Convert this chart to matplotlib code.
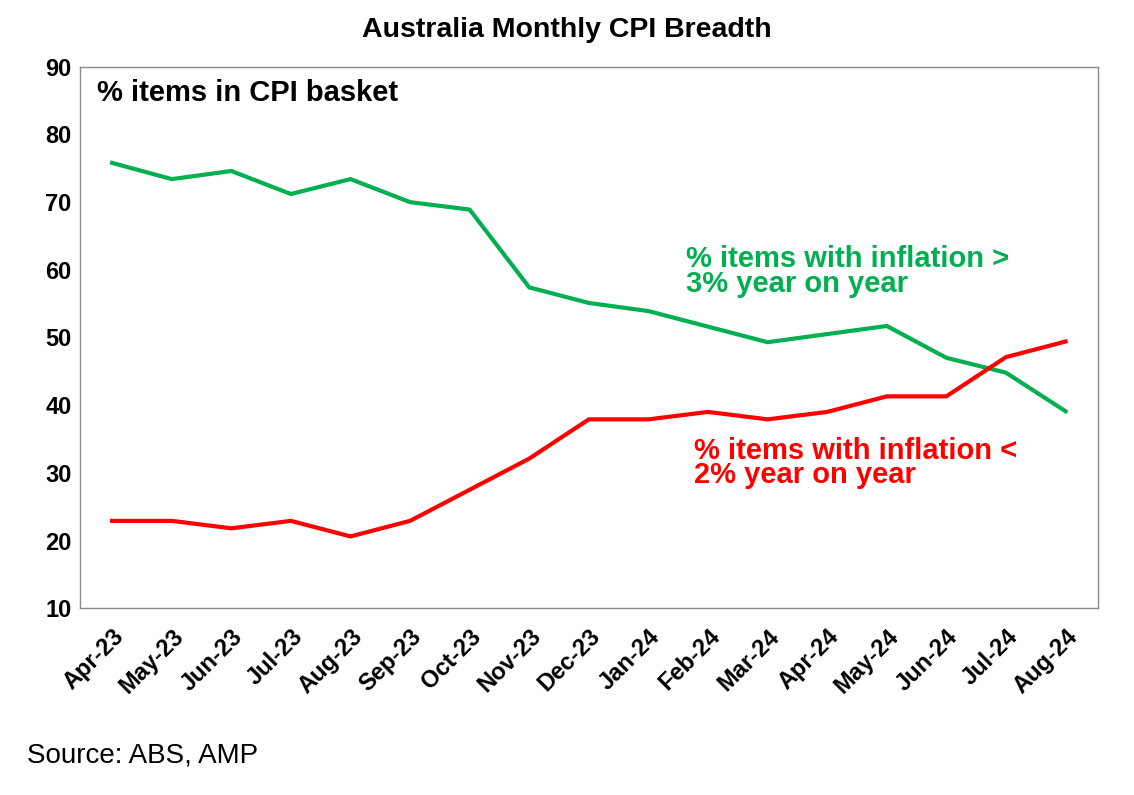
"""
Australia monthly CPI breadth chart
"""
import matplotlib
matplotlib.use("Agg")
import matplotlib.pyplot as plt

plt.rcParams['font.family'] = ['Liberation Sans', 'DejaVu Sans']

months = ["Apr-23", "May-23", "Jun-23", "Jul-23", "Aug-23", "Sep-23", "Oct-23",
          "Nov-23", "Dec-23", "Jan-24", "Feb-24", "Mar-24", "Apr-24", "May-24",
          "Jun-24", "Jul-24", "Aug-24"]

# % of items with inflation above 3% yoy
above_3 = [75.8, 73.4, 74.6, 71.2, 73.4, 70.0, 68.9, 57.4, 55.1, 53.9, 51.6,
           49.3, 50.5, 51.7, 47.0, 44.8, 39.1]

# % of items with inflation below 2% yoy
below_2 = [22.9, 22.9, 21.8, 22.9, 20.6, 22.9, 27.5, 32.1, 37.9, 37.9, 39.0,
           37.9, 39.0, 41.3, 41.3, 47.1, 49.4]

GREEN = "#00B050"
RED = "#FF0000"


def main():
    fig = plt.figure(figsize=(11.34, 7.95), dpi=100)
    ax = fig.add_axes([0.0705, 0.235, 0.8975, 0.681])

    x = range(len(months))
    ax.plot(x, above_3, color=GREEN, linewidth=3.0, solid_joinstyle="miter")
    ax.plot(x, below_2, color=RED, linewidth=3.0, solid_joinstyle="miter")

    ax.set_xlim(-0.54, len(months) - 1 + 0.54)
    ax.set_ylim(10, 90)
    ax.set_yticks(range(10, 91, 10))
    ax.set_xticks(list(x))
    ax.set_xticklabels(months, rotation=45, ha="right", rotation_mode="anchor",
                       fontsize=17, fontweight="bold")
    for lbl in ax.get_yticklabels():
        lbl.set_fontsize(17)
        lbl.set_fontweight("bold")
    ax.tick_params(axis="y", length=0, pad=6)
    ax.tick_params(axis="x", length=0, pad=12)

    for side in ax.spines.values():
        side.set_color("#8c8c8c")
        side.set_linewidth(1.0)

    ax.text(0.017, 0.978, "% items in CPI basket", transform=ax.transAxes,
            fontsize=21, fontweight="bold", va="top", ha="left")
    ax.text(0.595, 0.67, "% items with inflation >\n3% year on year",
            transform=ax.transAxes, fontsize=21, fontweight="bold",
            color=GREEN, va="top", ha="left", linespacing=0.85)
    ax.text(0.603, 0.317, "% items with inflation <\n2% year on year",
            transform=ax.transAxes, fontsize=21, fontweight="bold",
            color=RED, va="top", ha="left", linespacing=0.85)

    fig.text(0.5, 0.962, "Australia Monthly CPI Breadth", fontsize=20.5,
             fontweight="bold", ha="center", va="center")
    fig.text(0.024, 0.05, "Source: ABS, AMP", fontsize=20, ha="left",
             va="center")

    fig.savefig("out.png", dpi=100)


if __name__ == "__main__":
    main()
